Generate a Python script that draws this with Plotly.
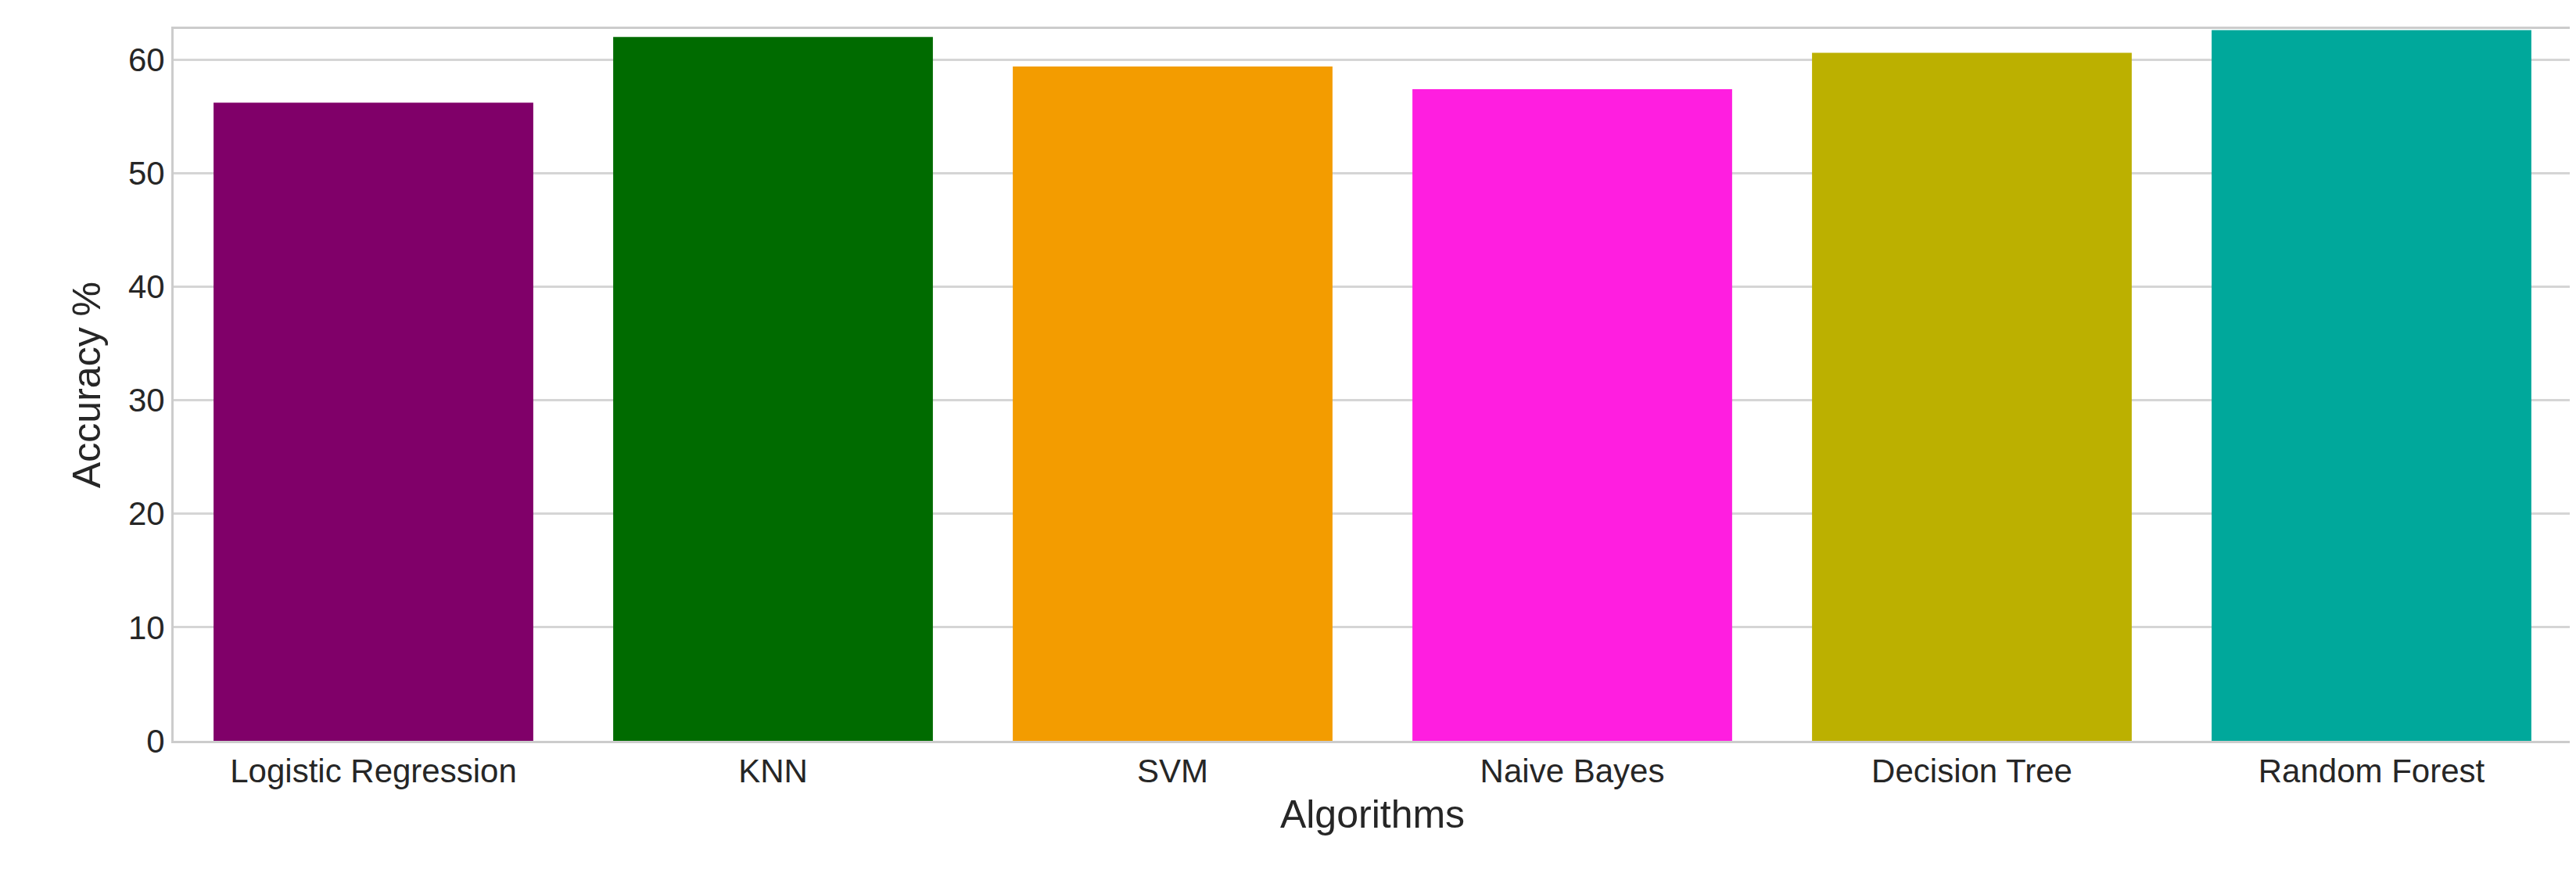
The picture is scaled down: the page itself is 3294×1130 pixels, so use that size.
import plotly.graph_objects as go

algorithms = ["Logistic Regression", "KNN", "SVM", "Naive Bayes", "Decision Tree", "Random Forest"]
accuracy = [56.2, 62.0, 59.4, 57.4, 60.6, 62.6]
colors = ["#800069", "#006b00", "#f39c00", "#ff1ee0", "#bcb000", "#00a89b"]

fig = go.Figure(go.Bar(x=algorithms, y=accuracy, marker_color=colors, width=0.8, marker_line_width=0))
fig.update_layout(
    width=3294, height=1130, plot_bgcolor="white", paper_bgcolor="white",
    margin=dict(l=214, r=14, t=29, b=191), showlegend=False,
    font=dict(family="Liberation Sans, Arial", color="#262626", size=42),
)
fig.update_xaxes(title_text="Algorithms", title_font_size=50, showgrid=False, showline=True,
                 linecolor="#cccccc", linewidth=3, mirror=True, ticks="", title_standoff=15)
fig.update_yaxes(title_text="Accuracy %", title_font_size=50, range=[0, 62.7], dtick=10,
                 showgrid=True, gridcolor="#d5d5d5", gridwidth=3, showline=True,
                 linecolor="#cccccc", linewidth=3, mirror=True, zeroline=False, ticks="", title_standoff=20)
fig.write_html("out.html")
